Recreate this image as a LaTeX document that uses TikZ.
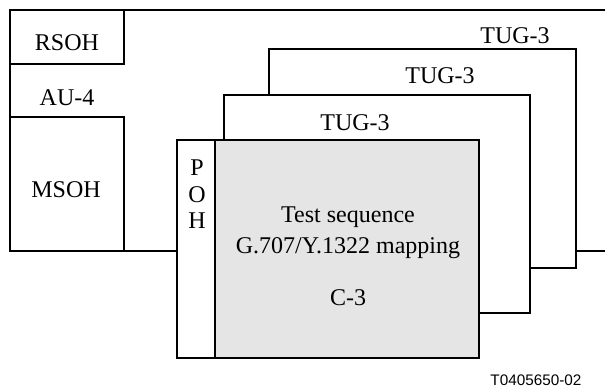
\documentclass[tikz,border=0pt]{standalone}
\usepackage{fontspec}
\setmainfont{Liberation Serif}
\newfontfamily\labelfont{Liberation Sans}
\begin{document}
\begin{tikzpicture}[x=1pt,y=-1pt,
  ln/.style={line width=1.3pt, line join=miter},
  txt/.style={inner sep=0pt, anchor=base, font=\fontsize{24}{28}\selectfont},
  lbl/.style={inner sep=0pt, anchor=base, font=\labelfont\fontsize{15.3}{18}\selectfont}]
\useasboundingbox (0,0) rectangle (605,388);
% outer frame
\draw[ln] (605,10) -- (10,10) -- (10,251) -- (177,251);
\draw[ln] (576,251) -- (605,251);
% RSOH and MSOH
\draw[ln] (10,10) rectangle (124,64);
\draw[ln] (10,117) rectangle (124,251);
\node[txt] (rsoh) at (67,50) {RSOH};
\node[txt] (au4) at (67,105) {AU-4};
\node[txt] (msoh) at (66,197) {MSOH};
% back TUG-3
\draw[ln] (269,95) -- (269,49) -- (576,49) -- (576,268) -- (530,268);
\node[txt] (tug3c) at (515,43) {TUG-3};
% middle TUG-3
\draw[ln] (224,140) -- (224,95) -- (530,95) -- (530,313) -- (479,313);
\node[txt] (tug3b) at (440,83) {TUG-3};
% front container
\draw[ln, fill=white] (177,140) rectangle (215,358);
\draw[ln, fill=black!10] (215,140) rectangle (479,358);
\draw[line width=2.6pt] (215,140) -- (215,358);
\node[txt] (tug3a) at (355,130) {TUG-3};
\node[inner sep=0pt, anchor=center, align=center, font=\fontsize{24}{26.5}\selectfont] (poh) at (197,194.5) {P\\O\\H};
\node[txt] (ts) at (348,222) {Test sequence};
\node[txt] (map) at (348,253) {G.707/Y.1322 mapping};
\node[txt] (c3) at (348,305) {C-3};
\node[lbl] (fig) at (536,385) {T0405650-02};
\end{tikzpicture}
\end{document}
